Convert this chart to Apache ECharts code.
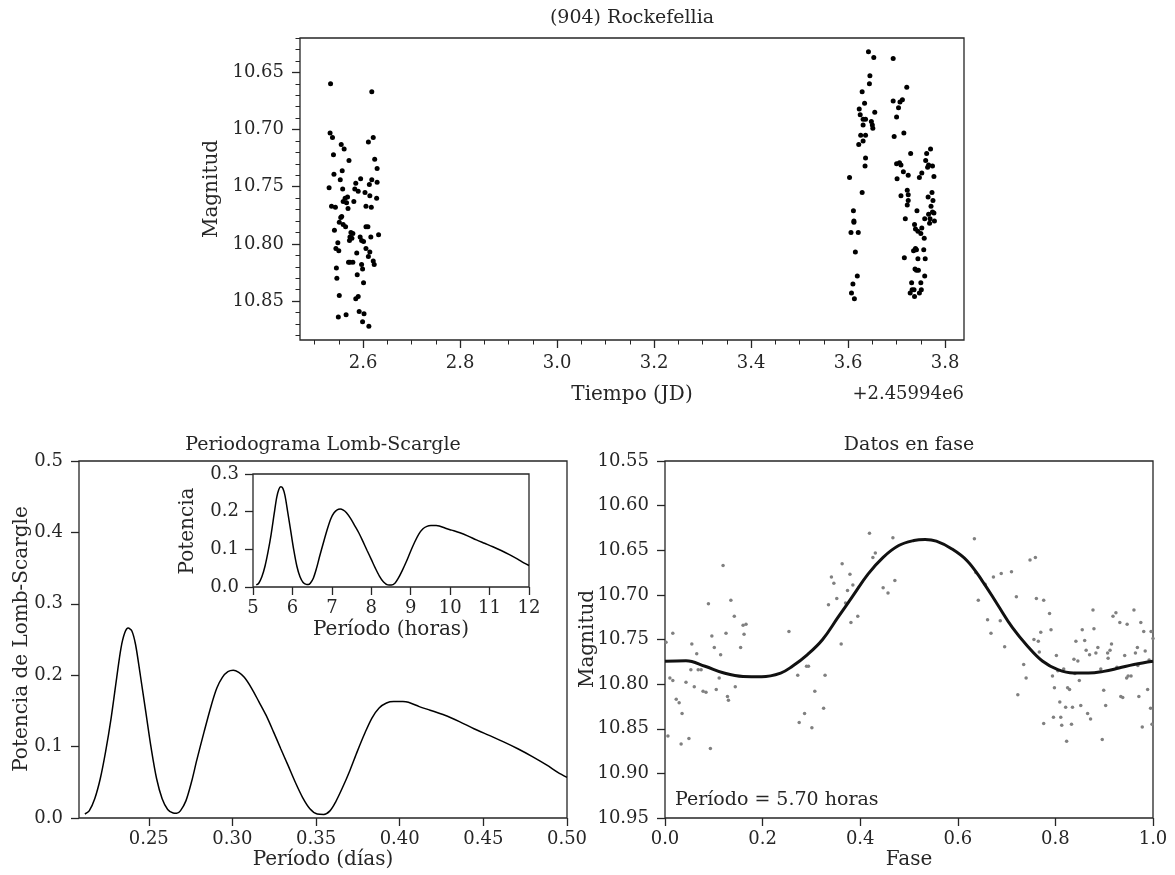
<!DOCTYPE html>
<html>
<head>
<meta charset="utf-8">
<title>(904) Rockefellia</title>
<script src="https://cdn.jsdelivr.net/npm/echarts@6/dist/echarts.min.js"></script>
<style>
  html, body { margin: 0; padding: 0; background: #fff; }
  #chart { width: 1175px; height: 875px; }
</style>
</head>
<body>
<div id="chart"></div>
<script>
// light curve: time (JD - 2459940) and observed magnitude
const timeJD = [
  2.533, 2.618, 2.532, 2.537, 2.621, 2.611, 2.555, 2.561, 2.539, 2.624, 2.571, 2.629, 2.540, 2.557,
  2.553, 2.595, 2.618, 2.629, 2.585, 2.613, 2.530, 2.558, 2.583, 2.590, 2.604, 2.614, 2.568, 2.563,
  2.628, 2.559, 2.581, 2.566, 2.535, 2.543, 2.606, 2.617, 2.569, 2.556, 2.554, 2.551, 2.559, 2.564,
  2.541, 2.575, 2.606, 2.610, 2.632, 2.579, 2.573, 2.616, 2.594, 2.597, 2.601, 2.572, 2.577, 2.548,
  2.544, 2.550, 2.606, 2.614, 2.587, 2.611, 2.570, 2.573, 2.579, 2.621, 2.623, 2.597, 2.599, 2.545,
  2.588, 2.546, 2.601, 2.551, 2.590, 2.585, 2.549, 2.565, 2.592, 2.602, 2.599, 2.612,
  3.642, 3.653, 3.693, 3.645, 3.644, 3.721, 3.629, 3.693, 3.707, 3.712, 3.634, 3.704, 3.623, 3.625,
  3.655, 3.631, 3.636, 3.700, 3.648, 3.631, 3.651, 3.650, 3.626, 3.636, 3.695, 3.715, 3.622, 3.631,
  3.729, 3.770, 3.762, 3.700, 3.706, 3.709, 3.636, 3.760, 3.766, 3.764, 3.774, 3.635, 3.603, 3.701,
  3.714, 3.724, 3.747, 3.752, 3.777, 3.629, 3.709, 3.722, 3.724, 3.773, 3.724, 3.765, 3.775, 3.722,
  3.771, 3.774, 3.777, 3.742, 3.766, 3.611, 3.612, 3.612, 3.718, 3.737, 3.744, 3.758, 3.769, 3.768,
  3.778, 3.752, 3.739, 3.750, 3.757, 3.606, 3.621, 3.615, 3.716, 3.741, 3.739, 3.744, 3.735, 3.756,
  3.759, 3.738, 3.741, 3.745, 3.758, 3.619, 3.610, 3.731, 3.750, 3.732, 3.736, 3.751, 3.607, 3.728,
  3.747, 3.737, 3.613
];
const magTime = [
  10.660, 10.667, 10.703, 10.707, 10.707, 10.711, 10.713, 10.717, 10.722, 10.726, 10.727, 10.734, 10.739, 10.736,
  10.744, 10.743, 10.744, 10.746, 10.747, 10.748, 10.751, 10.752, 10.752, 10.754, 10.755, 10.758, 10.759, 10.760,
  10.760, 10.763, 10.763, 10.764, 10.767, 10.768, 10.767, 10.768, 10.769, 10.776, 10.777, 10.781, 10.783, 10.785,
  10.788, 10.790, 10.785, 10.785, 10.792, 10.791, 10.794, 10.794, 10.794, 10.797, 10.798, 10.797, 10.795, 10.799,
  10.804, 10.806, 10.804, 10.807, 10.808, 10.811, 10.816, 10.816, 10.816, 10.815, 10.818, 10.818, 10.822, 10.821,
  10.827, 10.830, 10.834, 10.845, 10.846, 10.848, 10.864, 10.862, 10.859, 10.861, 10.868, 10.872,
  10.632, 10.637, 10.638, 10.653, 10.660, 10.663, 10.667, 10.675, 10.676, 10.674, 10.677, 10.681, 10.682, 10.687,
  10.685, 10.691, 10.691, 10.689, 10.693, 10.696, 10.699, 10.696, 10.705, 10.705, 10.706, 10.703, 10.713, 10.710,
  10.721, 10.717, 10.721, 10.730, 10.729, 10.731, 10.725, 10.727, 10.731, 10.733, 10.732, 10.732, 10.742, 10.743,
  10.737, 10.740, 10.742, 10.738, 10.741, 10.755, 10.758, 10.753, 10.757, 10.755, 10.762, 10.759, 10.762, 10.766,
  10.767, 10.772, 10.773, 10.771, 10.774, 10.771, 10.780, 10.781, 10.778, 10.783, 10.789, 10.778, 10.778, 10.782,
  10.780, 10.786, 10.787, 10.791, 10.795, 10.790, 10.790, 10.807, 10.812, 10.805, 10.804, 10.813, 10.806, 10.805,
  10.813, 10.822, 10.823, 10.823, 10.828, 10.828, 10.835, 10.834, 10.834, 10.840, 10.840, 10.840, 10.843, 10.843,
  10.843, 10.846, 10.848
];

// Lomb-Scargle periodogram (period in days)
const periodDays = [
  0.2118, 0.2144, 0.2177, 0.2210, 0.2242, 0.2275, 0.2308, 0.2334, 0.2356, 0.2377, 0.2399, 0.2421,
  0.2449, 0.2482, 0.2515, 0.2547, 0.2580, 0.2613, 0.2646, 0.2667, 0.2689, 0.2722, 0.2755, 0.2787,
  0.2831, 0.2874, 0.2907, 0.2940, 0.2973, 0.3005, 0.3038, 0.3071, 0.3114, 0.3158, 0.3201, 0.3245,
  0.3289, 0.3332, 0.3376, 0.3419, 0.3463, 0.3507, 0.3546, 0.3583, 0.3616, 0.3659, 0.3703, 0.3746,
  0.3790, 0.3834, 0.3877, 0.3921, 0.3964, 0.4019, 0.4052, 0.4117, 0.4182, 0.4270, 0.4357, 0.4444,
  0.4531, 0.4618, 0.4706, 0.4793, 0.4880, 0.4945, 0.5000
];
const lsPower = [
  0.0056, 0.010, 0.027, 0.055, 0.093, 0.140, 0.196, 0.238, 0.259, 0.266, 0.262, 0.243,
  0.201, 0.149, 0.097, 0.055, 0.027, 0.012, 0.007, 0.0066, 0.010, 0.024, 0.050, 0.081,
  0.121, 0.158, 0.182, 0.197, 0.205, 0.207, 0.204, 0.197, 0.182, 0.163, 0.144, 0.121,
  0.097, 0.074, 0.050, 0.029, 0.013, 0.0056, 0.005, 0.010, 0.022, 0.043, 0.067, 0.093,
  0.118, 0.140, 0.154, 0.161, 0.163, 0.163, 0.162, 0.156, 0.151, 0.144, 0.135, 0.125,
  0.116, 0.107, 0.097, 0.086, 0.074, 0.064, 0.057
];

// phased observations
const phase = [
  0.002, 0.016, 0.006, 0.010, 0.016, 0.023, 0.029, 0.035, 0.033, 0.043, 0.049, 0.055, 0.053, 0.060,
  0.065, 0.068, 0.074, 0.078, 0.084, 0.089, 0.096, 0.101, 0.093, 0.105, 0.111, 0.114, 0.119, 0.125,
  0.128, 0.130, 0.135, 0.142, 0.144, 0.162, 0.160, 0.166, 0.155, 0.254, 0.272, 0.275, 0.286, 0.290,
  0.294, 0.301, 0.307, 0.325, 0.328, 0.335, 0.341, 0.346, 0.352, 0.361, 0.363, 0.370, 0.374, 0.379,
  0.381, 0.385, 0.395, 0.419, 0.426, 0.431, 0.447, 0.457, 0.467, 0.471, 0.634, 0.637, 0.642, 0.656,
  0.661, 0.668, 0.673, 0.689, 0.687, 0.696, 0.710, 0.720, 0.723, 0.735, 0.740, 0.748, 0.759, 0.756,
  0.761, 0.765, 0.767, 0.770, 0.776, 0.776, 0.788, 0.791, 0.794, 0.798, 0.796, 0.802, 0.805, 0.809,
  0.811, 0.813, 0.817, 0.821, 0.823, 0.825, 0.829, 0.833, 0.835, 0.840, 0.838, 0.842, 0.846, 0.849,
  0.852, 0.855, 0.860, 0.863, 0.866, 0.870, 0.872, 0.877, 0.879, 0.883, 0.887, 0.893, 0.896, 0.899,
  0.903, 0.907, 0.908, 0.912, 0.915, 0.918, 0.924, 0.926, 0.932, 0.934, 0.938, 0.942, 0.946, 0.947,
  0.949, 0.955, 0.961, 0.964, 0.968, 0.969, 0.971, 0.975, 0.978, 0.981, 0.984, 0.989, 0.995, 0.996,
  0.998, 1.000, 0.992
];
const magPhase = [
  10.753, 10.743, 10.858, 10.793, 10.796, 10.817, 10.821, 10.833, 10.867, 10.798, 10.861, 10.755, 10.784, 10.803,
  10.766, 10.784, 10.784, 10.808, 10.809, 10.710, 10.746, 10.759, 10.872, 10.806, 10.793, 10.767, 10.667, 10.743,
  10.814, 10.818, 10.706, 10.724, 10.803, 10.744, 10.734, 10.733, 10.759, 10.741, 10.790, 10.843, 10.833, 10.780,
  10.780, 10.849, 10.808, 10.827, 10.790, 10.711, 10.680, 10.687, 10.704, 10.755, 10.665, 10.709, 10.695, 10.677,
  10.731, 10.689, 10.724, 10.631, 10.658, 10.653, 10.692, 10.698, 10.636, 10.684, 10.637, 10.675, 10.706, 10.688,
  10.728, 10.743, 10.680, 10.676, 10.729, 10.758, 10.674, 10.702, 10.812, 10.778, 10.793, 10.661, 10.658, 10.750,
  10.704, 10.752, 10.764, 10.742, 10.706, 10.844, 10.721, 10.739, 10.791, 10.804, 10.837, 10.768, 10.785, 10.820,
  10.837, 10.846, 10.783, 10.826, 10.864, 10.804, 10.806, 10.845, 10.826, 10.788, 10.772, 10.752, 10.774, 10.796,
  10.824, 10.739, 10.751, 10.762, 10.833, 10.767, 10.839, 10.717, 10.738, 10.765, 10.759, 10.783, 10.862, 10.807,
  10.824, 10.765, 10.771, 10.762, 10.755, 10.724, 10.720, 10.781, 10.731, 10.814, 10.815, 10.768, 10.793, 10.733,
  10.791, 10.791, 10.717, 10.765, 10.759, 10.779, 10.814, 10.731, 10.848, 10.741, 10.763, 10.806, 10.827, 10.741,
  10.845, 10.749, 10.773
];

// fitted light curve
const fitPhase = [
  0.000, 0.043, 0.082, 0.121, 0.160, 0.198, 0.237, 0.261, 0.292, 0.323, 0.354, 0.385, 0.416, 0.447,
  0.479, 0.510, 0.533, 0.556, 0.588, 0.619, 0.650, 0.681, 0.712, 0.743, 0.774, 0.805, 0.837, 0.868,
  0.899, 0.930, 0.961, 1.000
];
const fitMag = [
  10.7744, 10.7737, 10.7800, 10.7876, 10.7914, 10.7917, 10.7876, 10.7800, 10.7669, 10.7500, 10.7256,
  10.7011, 10.6767, 10.6579, 10.6447, 10.6391, 10.6380, 10.6398, 10.6485, 10.6617, 10.6842, 10.7105,
  10.7368, 10.7575, 10.7744, 10.7838, 10.7876, 10.7876, 10.7857, 10.7820, 10.7780, 10.7744
];

// tick labels
const timeTicks = [2.6, 2.8, 3.0, 3.2, 3.4, 3.6, 3.8];
const magTicksTop = [10.65, 10.70, 10.75, 10.80, 10.85];
const dayTicks = [0.25, 0.30, 0.35, 0.40, 0.45, 0.50];
const powerTicks = [0, 0.1, 0.2, 0.3, 0.4, 0.5];
const hourTicks = [5, 6, 7, 8, 9, 10, 11, 12];
const insetPowerTicks = [0, 0.1, 0.2, 0.3];
const phaseTicks = [0, 0.2, 0.4, 0.6, 0.8, 1.0];
const magTicksPhase = [10.55, 10.60, 10.65, 10.70, 10.75, 10.80, 10.85, 10.90, 10.95];

const FONT = 'DejaVu Serif';
const INK = '#262626';

// minor ticks of the light curve panel
const timeMinor = [];
for (let i = 50; i <= 76; i++) timeMinor.push(+(i * 0.05).toFixed(2));
const magMinor = [];
for (let i = 1062; i <= 1088; i++) magMinor.push(+(i / 100).toFixed(2));

function axis(grid, pos, min, max, ticks, digits, margin, extra) {
  return Object.assign({
    type: 'value', gridIndex: grid, position: pos, min: min, max: max,
    axisLine: { show: false },
    splitLine: { show: false },
    axisTick: { show: true, customValues: ticks, length: 8, lineStyle: { color: INK, width: 1.3 } },
    axisLabel: {
      customValues: ticks, color: INK, fontFamily: FONT, fontSize: 18, margin: margin,
      formatter: v => v.toFixed(digits)
    }
  }, extra || {});
}
function minorAxis(grid, pos, min, max, ticks, extra) {
  return Object.assign({
    type: 'value', gridIndex: grid, position: pos, min: min, max: max,
    axisLine: { show: false },
    splitLine: { show: false },
    axisTick: { show: true, customValues: ticks, length: 4.5, lineStyle: { color: INK, width: 1 } },
    axisLabel: { show: false }
  }, extra || {});
}
function text(str, x, y, size, rot, align) {
  return {
    type: 'text', x: x, y: y, rotation: rot || 0,
    style: {
      text: str, fill: INK, font: size + 'px "' + FONT + '"',
      align: align || 'center', verticalAlign: 'middle',
      textAlign: align || 'center', textVerticalAlign: 'middle'
    }
  };
}
const box = { show: true, borderColor: INK, borderWidth: 1.3, backgroundColor: 'transparent' };

const chart = echarts.init(document.getElementById('chart'));
chart.setOption({
  animation: false,
  backgroundColor: '#fff',
  grid: [
    Object.assign({ left: 300, top: 38, width: 664, height: 302 }, box),
    Object.assign({ left: 79, top: 461, width: 488, height: 357 }, box),
    Object.assign({ left: 253, top: 474, width: 276, height: 113 }, box),
    Object.assign({ left: 665, top: 461, width: 488, height: 357 }, box)
  ],
  xAxis: [
    axis(0, 'bottom', 2.47, 3.839, timeTicks, 1, 14),
    minorAxis(0, 'bottom', 2.47, 3.839, timeMinor),
    axis(1, 'bottom', 0.2083, 0.5, dayTicks, 2, 12),
    axis(2, 'bottom', 5, 12, hourTicks, 0, 12),
    axis(3, 'bottom', 0, 1, phaseTicks, 1, 12)
  ],
  yAxis: [
    axis(0, 'left', 10.62, 10.884, magTicksTop, 2, 16, { inverse: true }),
    minorAxis(0, 'left', 10.62, 10.884, magMinor, { inverse: true }),
    axis(1, 'left', 0, 0.5, powerTicks, 1, 16),
    axis(2, 'left', 0, 0.3, insetPowerTicks, 1, 14),
    axis(3, 'left', 10.55, 10.95, magTicksPhase, 2, 16, { inverse: true })
  ],
  series: [
    {
      type: 'scatter', xAxisIndex: 0, yAxisIndex: 0, symbolSize: 5,
      itemStyle: { color: '#000', opacity: 1 },
      data: timeJD.map((t, i) => [t, magTime[i]])
    },
    {
      type: 'line', xAxisIndex: 2, yAxisIndex: 2, showSymbol: false, smooth: 0.3,
      lineStyle: { color: '#000', width: 1.5 },
      data: periodDays.map((p, i) => [p, lsPower[i]])
    },
    {
      type: 'line', xAxisIndex: 3, yAxisIndex: 3, showSymbol: false, smooth: 0.3,
      lineStyle: { color: '#000', width: 1.5 },
      data: periodDays.map((p, i) => [p * 24, lsPower[i]])
    },
    {
      type: 'scatter', xAxisIndex: 4, yAxisIndex: 4, symbolSize: 3.5,
      itemStyle: { color: '#808080', opacity: 1 },
      data: phase.map((p, i) => [p, magPhase[i]])
    },
    {
      type: 'line', xAxisIndex: 4, yAxisIndex: 4, showSymbol: false, smooth: 0.4,
      lineStyle: { color: '#111', width: 3 },
      data: fitPhase.map((p, i) => [p, fitMag[i]])
    }
  ],
  graphic: [
    text('(904) Rockefellia', 632, 18, 19),
    text('Magnitud', 212, 189, 20, Math.PI / 2),
    text('Tiempo (JD)', 632, 395, 20),
    text('+2.45994e6', 964, 394, 18, 0, 'right'),
    text('Periodograma Lomb-Scargle', 323, 445, 19),
    text('Potencia de Lomb-Scargle', 22, 639, 20, Math.PI / 2),
    text('Período (días)', 323, 860, 20),
    text('Potencia', 188, 531, 20, Math.PI / 2),
    text('Período (horas)', 391, 630, 20),
    text('Datos en fase', 909, 445, 19),
    text('Magnitud', 588, 639, 20, Math.PI / 2),
    text('Fase', 909, 860, 20),
    text('Período = 5.70 horas', 675, 800, 19, 0, 'left')
  ]
});
</script>
</body>
</html>
